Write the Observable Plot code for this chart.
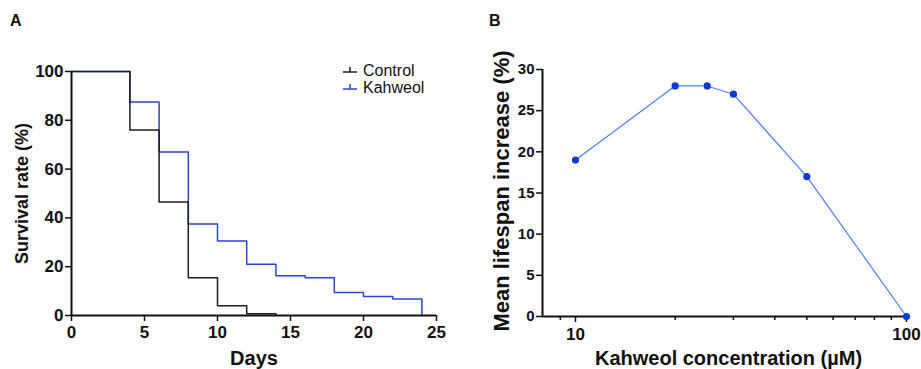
<!DOCTYPE html>
<html><head><meta charset="utf-8">
<script src="https://cdn.jsdelivr.net/npm/d3@7"></script>
<script src="https://cdn.jsdelivr.net/npm/@observablehq/plot@0.6"></script>
<style>
body{margin:0;background:#fff;font-family:"Liberation Sans",Arial,sans-serif;}
#fig{position:relative;width:921px;height:369px;overflow:hidden;}
.panel{position:absolute;top:0;}
.plab{position:absolute;font-weight:bold;font-size:16px;color:#111;line-height:1;}
.leg{position:absolute;font-size:16px;color:#111;line-height:1;white-space:nowrap;}
</style>
</head><body>
<div id="fig"></div>
<script>
// Panel A: survival curves
const daysControl = [0, 4, 6, 8, 10, 12, 14];
const survControl = [100, 76, 46.5, 15.5, 4, 0.7, 0];
const daysKahweol = [0, 4, 6, 8, 10, 12, 14, 16, 18, 20, 22, 24];
const survKahweol = [100, 87.5, 67, 37.5, 30.5, 21, 16.3, 15.5, 9.4, 7.8, 6.8, 0];
const seriesNames = ["Control", "Kahweol"];
const xTicksA = [0, 5, 10, 15, 20, 25];
const yTicksA = [0, 20, 40, 60, 80, 100];

// Panel B: dose response
const concentrations = [10, 20, 25, 30, 50, 100];
const lifespanIncrease = [19, 28, 28, 27, 17, 0];
const xMajorB = [10, 100];
const xMinorB = [9, 20, 30, 40, 50, 60, 70, 80, 90];
const yTicksB = [0, 5, 10, 15, 20, 25, 30];

const colControl = "#1e1e1e";
const colKahweol = "#2a45cf";
const colLineB = "#4d80ef";
const colDotB = "#0a3bd0";

const fig = document.getElementById("fig");
const baseStyle = {fontFamily:"'Liberation Sans', Arial, sans-serif", fontSize:"17px", fontWeight:"bold", color:"#111", background:"transparent", overflow:"visible"};

const ctrl = daysControl.map((d,i)=>({day:d, s:survControl[i]}));
const kah = daysKahweol.map((d,i)=>({day:d, s:survKahweol[i]}));

const plotA = Plot.plot({
  width:460, height:369,
  marginLeft:71, marginRight:24, marginTop:71, marginBottom:54,
  style:baseStyle,
  x:{domain:[0,25]},
  y:{domain:[0,100]},
  marks:[
    Plot.axisX({ticks:xTicksA, tickSize:6, tickPadding:4, tickFormat:d=>d, label:null, strokeWidth:1.5, fontSize:17}),
    Plot.axisY({ticks:yTicksA, tickSize:6, tickPadding:2, tickFormat:d=>d, label:null, strokeWidth:1.5, fontSize:17}),
    Plot.line(kah, {x:"day", y:"s", curve:"step-after", stroke:colKahweol, strokeWidth:1.5}),
    Plot.line(ctrl, {x:"day", y:"s", curve:"step-after", stroke:colControl, strokeWidth:1.5}),
    Plot.ruleX([0], {stroke:"#111", strokeWidth:2}),
    Plot.ruleY([0], {stroke:"#111", strokeWidth:2}),
    Plot.text(["Survival rate (%)"], {frameAnchor:"left", dx:-49, rotate:-90, textAnchor:"middle", lineAnchor:"middle", fontSize:18, fontWeight:"bold"}),
    Plot.text(["Days"], {frameAnchor:"bottom", dy:43, textAnchor:"middle", lineAnchor:"middle", fontSize:20, fontWeight:"bold"})
  ]
});
plotA.classList.add("panel");
plotA.style.left = "0px";
fig.appendChild(plotA);

const dataB = concentrations.map((c,i)=>({c, v:lifespanIncrease[i]}));
const plotB = Plot.plot({
  width:461, height:369,
  marginLeft:82, marginRight:15, marginTop:69, marginBottom:53,
  style:baseStyle,
  x:{type:"log", domain:[7.95,100]},
  y:{domain:[0,30]},
  marks:[
    Plot.axisX({ticks:xMajorB, tickSize:6, tickPadding:5, tickFormat:d=>String(d), label:null, strokeWidth:1.5, fontSize:17}),
    Plot.axisX({ticks:xMinorB, tickSize:4, tickFormat:()=>"", label:null, strokeWidth:1.5}),
    Plot.axisY({ticks:yTicksB, tickSize:6, tickPadding:2, tickFormat:d=>d, label:null, strokeWidth:1.5, fontSize:15}),
    Plot.ruleX([7.95], {stroke:"#111", strokeWidth:2}),
    Plot.ruleY([0], {stroke:"#111", strokeWidth:2}),
    Plot.line(dataB, {x:"c", y:"v", stroke:colLineB, strokeWidth:1.2}),
    Plot.dot(dataB, {x:"c", y:"v", r:3.6, fill:colDotB, stroke:"none"}),
    Plot.text(["Mean lifespan increase (%)"], {frameAnchor:"left", dx:-41, dy:-2, rotate:-90, textAnchor:"middle", lineAnchor:"middle", fontSize:22, fontWeight:"bold"}),
    Plot.text(["Kahweol concentration (µM)"], {frameAnchor:"bottom", dy:42, dx:4, textAnchor:"middle", lineAnchor:"middle", fontSize:20, fontWeight:"bold"})
  ]
});
plotB.classList.add("panel");
plotB.style.left = "460px";
fig.appendChild(plotB);

// panel letters
function addDiv(cls, text, left, top){
  const d = document.createElement("div");
  d.className = cls; d.textContent = text;
  d.style.left = left+"px"; d.style.top = top+"px";
  fig.appendChild(d); return d;
}
addDiv("plab","A",10,13);
addDiv("plab","B",489,13);

// legend for panel A
const legColors = [colControl, colKahweol];
const legRows = [72, 89];
seriesNames.forEach((name,i)=>{
  const y = legRows[i];
  const svg = document.createElementNS("http://www.w3.org/2000/svg","svg");
  svg.setAttribute("width","16"); svg.setAttribute("height","10");
  svg.style.position="absolute"; svg.style.left="342px"; svg.style.top=(y-8)+"px";
  svg.innerHTML = `<line x1="1" x2="15" y1="8" y2="8" stroke="${legColors[i]}" stroke-width="1.5"/><line x1="8" x2="8" y1="3" y2="8" stroke="${legColors[i]}" stroke-width="1.5"/>`;
  fig.appendChild(svg);
  addDiv("leg", name, 363, y-9);
});
</script>
</body></html>
